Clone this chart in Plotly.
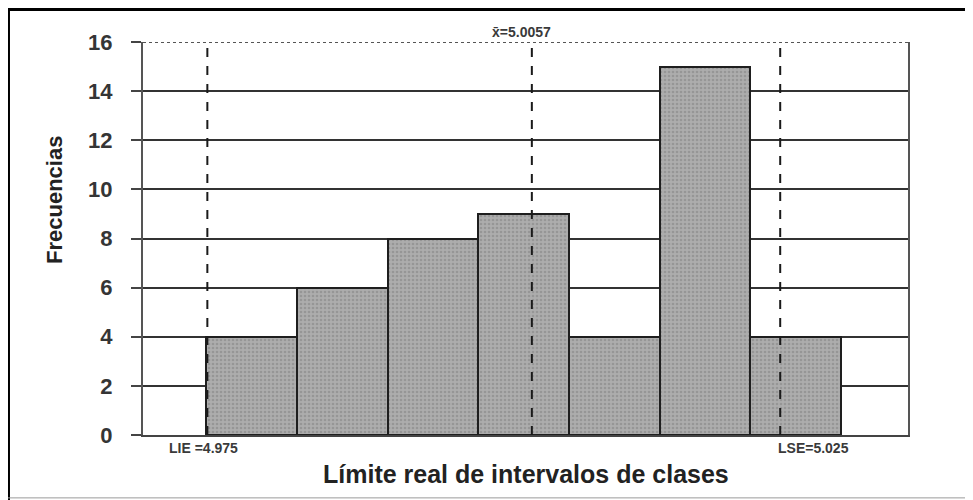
import plotly.graph_objects as go

# histogram classes (index of the class) and their frequencies
clases = [1, 2, 3, 4, 5, 6, 7]
frecuencias = [4, 6, 8, 9, 4, 15, 4]

# reference lines, placed on the class-index axis
lineas_pos = [0.51, 4.09, 6.83]
lineas_txt = ["LIE =4.975", "x̄=5.0057", "LSE=5.025"]

y_ticks = [0, 2, 4, 6, 8, 10, 12, 14, 16]

FONT = "Liberation Sans, Arial, sans-serif"
GRIS = "#353535"

fig = go.Figure()
fig.add_trace(
    go.Bar(
        x=clases,
        y=frecuencias,
        width=1,
        marker=dict(
            color="#a6a6a6",
            line=dict(color="#1e1e1e", width=2),
            pattern=dict(shape=".", fgcolor="#808080", bgcolor="#adadad", size=4, solidity=0.35),
        ),
        showlegend=False,
    )
)

# dashed reference lines
for xpos in lineas_pos:
    fig.add_shape(
        type="line", xref="x", yref="y", x0=xpos, x1=xpos, y0=0, y1=16,
        line=dict(color="#1a1a1a", width=2, dash="dash"), layer="above",
    )

# top border of the plot is dotted
fig.add_shape(type="line", xref="paper", yref="y", x0=0, x1=1, y0=16, y1=16,
              line=dict(color="white", width=3), layer="above")
fig.add_shape(type="line", xref="paper", yref="y", x0=0, x1=1, y0=16, y1=16,
              line=dict(color="#555555", width=2, dash="dot"), layer="above")

# labels of the reference lines
etiqueta_font = dict(family=FONT, size=14, color="#3a3a3a", weight="bold")
fig.add_annotation(x=lineas_pos[0], y=0, xref="x", yref="paper", text=lineas_txt[0],
                   showarrow=False, yanchor="middle", yshift=-13, xshift=-4, font=etiqueta_font)
fig.add_annotation(x=lineas_pos[1], y=1, xref="x", yref="paper", text=lineas_txt[1],
                   showarrow=False, yanchor="middle", yshift=10, xshift=-10, font=etiqueta_font)
fig.add_annotation(x=lineas_pos[2], y=0, xref="x", yref="paper", text=lineas_txt[2],
                   showarrow=False, yanchor="middle", yshift=-13, xshift=33, font=etiqueta_font)

# axis titles
fig.add_annotation(x=0.5, y=-0.099, xref="paper", yref="paper", xanchor="center", yanchor="middle",
                   text="<b>Límite real de intervalos de clases</b>", showarrow=False,
                   font=dict(family=FONT, size=25, color="#222"))
fig.add_annotation(x=-0.115, y=0.598, xref="paper", yref="paper", textangle=-90,
                   xanchor="center", yanchor="middle",
                   text="<b>Frecuencias</b>", showarrow=False,
                   font=dict(family=FONT, size=22, color="#222"))

# outer frame of the picture
fig.add_shape(type="line", xref="paper", yref="paper", x0=-0.1765, x1=-0.1765, y0=-0.18, y1=1.0865,
              line=dict(color="black", width=4))
fig.add_shape(type="line", xref="paper", yref="paper", x0=-0.1765, x1=1.09, y0=1.0865, y1=1.0865,
              line=dict(color="black", width=6))
fig.add_shape(type="line", xref="paper", yref="paper", x0=-0.1765, x1=1.09, y0=-0.16, y1=-0.16,
              line=dict(color="#9a9a9a", width=1))

fig.update_xaxes(
    range=[-0.2, 8.24], showticklabels=False, ticks="", showgrid=False, zeroline=False,
    showline=True, linecolor="#444", linewidth=2, mirror=False,
)
fig.update_yaxes(
    range=[0, 16], tickvals=y_ticks, ticks="outside", ticklen=10, tickwidth=2, tickcolor="#444",
    showgrid=True, gridcolor="#333", gridwidth=2, zeroline=False,
    showline=True, linecolor="#555", linewidth=2, mirror=True,
    ticklabelstandoff=14,
    tickfont=dict(family=FONT, size=22, color=GRIS, weight="bold"),
)
fig.update_layout(
    width=965, height=492,
    margin=dict(l=135, r=65, t=34, b=65),
    plot_bgcolor="white", paper_bgcolor="white",
    bargap=0,
)

fig.write_html("out.html")
